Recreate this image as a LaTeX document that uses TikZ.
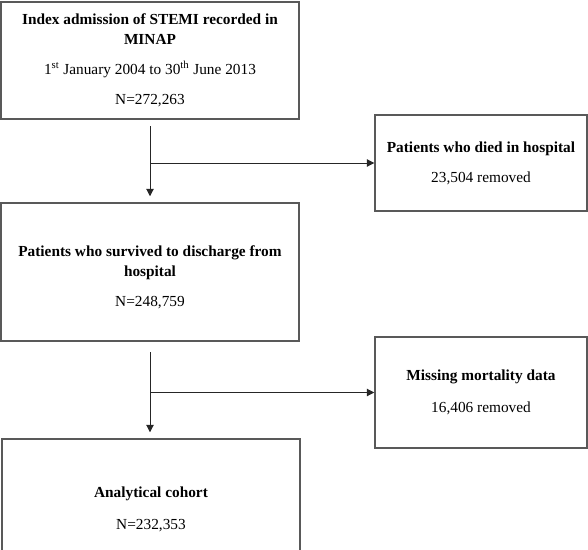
\documentclass[tikz,border=0pt]{standalone}
\usepackage{fontspec}
\setmainfont{Liberation Serif}
\usetikzlibrary{arrows.meta}

\tikzset{every picture/.style={line width=0.75pt}}
\tikzset{
  flowbox/.style={draw=black!65, line width=1.1pt, align=center, inner sep=0pt,
    font=\fontsize{11.5}{15}\selectfont},
  flowarrow/.style={draw=black!85, -{Triangle[length=5.5pt,width=5.5pt]}}
}

\begin{document}
\begin{tikzpicture}[x=0.75pt,y=0.75pt,yscale=-1,xscale=1]
\useasboundingbox (0,0) rectangle (588,549);

%Shape: Rectangle (index admission)
\node[flowbox, minimum width=298*0.75pt, minimum height=117*0.75pt] (index) at (150,60.5)
  {\textbf{Index admission of STEMI recorded in}\\\textbf{MINAP}\\[7.5pt]
   1\textsuperscript{st} January 2004 to 30\textsuperscript{th} June 2013\\[7.5pt]
   N=272,263};

%Shape: Rectangle (died)
\node[flowbox, minimum width=212*0.75pt, minimum height=96*0.75pt] (died) at (481,163)
  {\textbf{Patients who died in hospital}\\[7.5pt]23,504 removed};

%Shape: Rectangle (survived)
\node[flowbox, minimum width=298*0.75pt, minimum height=138*0.75pt] (survived) at (150,272)
  {\rule{0pt}{15.5pt}\textbf{Patients who survived to discharge from}\\\textbf{hospital}\\[7.5pt]N=248,759};

%Shape: Rectangle (missing)
\node[flowbox, minimum width=212*0.75pt, minimum height=111*0.75pt] (missing) at (481,392.5)
  {\textbf{Missing mortality data}\\[9pt]16,406 removed};

%Shape: Rectangle (cohort)
\node[flowbox, minimum width=298*0.75pt, minimum height=141*0.75pt] (cohort) at (151,509.5)
  {\textbf{Analytical cohort}\\[9pt]N=232,353};

% Arrows
\draw[flowarrow, shorten <=5pt, shorten >=4.5pt] (index.south) -- (survived.north);
\draw[flowarrow] (index.south |- died.west) -- (died.west);
\draw[flowarrow, shorten <=8pt, shorten >=4.5pt] (survived.south) -- (survived.south |- cohort.north);
\draw[flowarrow] (survived.south |- missing.west) -- (missing.west);

\end{tikzpicture}
\end{document}
